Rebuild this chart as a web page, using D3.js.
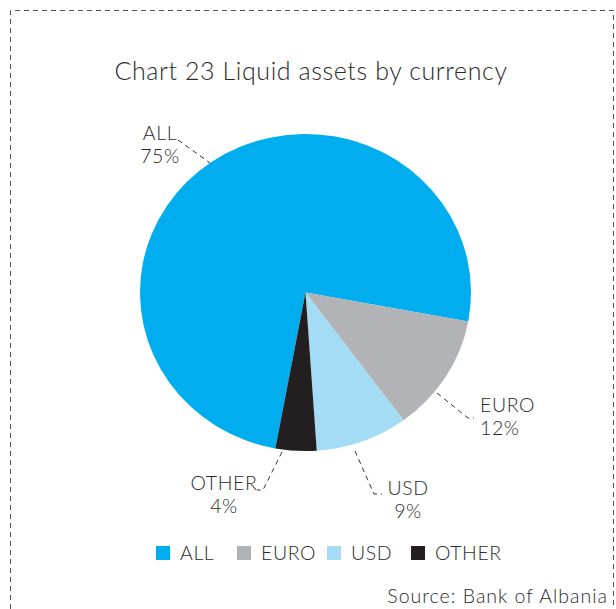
<!DOCTYPE html>
<html>
<head>
<meta charset="utf-8">
<script src="https://cdn.jsdelivr.net/npm/d3@7"></script>
<style>
  html, body { margin: 0; padding: 0; background: #fff; }
  svg { display: block; font-family: "Lato", "Open Sans", sans-serif; }
</style>
</head>
<body>
<svg id="chart" width="616" height="609"></svg>
<script>
// Liquid assets by currency, shares in percent
const categories = ["ALL", "EURO", "USD", "OTHER"];
const shares = [75, 12, 9, 4];
const colors = ["#00aeef", "#b1b3b6", "#a4dcf6", "#231f20"];
const titleText = "Chart 23 Liquid assets by currency";
const sourceText = "Source: Bank of Albania";

const svg = d3.select("#chart");
const textColor = "#2b2b2b";

// dashed frame (left, top, right)
svg.append("path")
  .attr("d", "M10.5,609 L10.5,10.5 L613.5,10.5 L613.5,609")
  .attr("fill", "none")
  .attr("stroke", "#555")
  .attr("stroke-width", 1)
  .attr("stroke-dasharray", "5,4");

svg.append("text")
  .attr("x", 311).attr("y", 80)
  .attr("text-anchor", "middle")
  .attr("font-size", 25)
  .attr("font-weight", 300)
  .attr("letter-spacing", 0.6)
  .attr("fill", textColor)
  .text(titleText);

// the pie is drawn slightly wider than tall
const cx = 305.5, cy = 292.5, radius = 165.5, yScale = 0.958;
const data = categories.map((c, i) => ({ name: c, value: shares[i], color: colors[i] }));

const startDeg = 190.5;
const pie = d3.pie()
  .sort(null)
  .value(d => d.value)
  .startAngle(startDeg * Math.PI / 180)
  .endAngle((startDeg + 360) * Math.PI / 180);

const arc = d3.arc().innerRadius(0).outerRadius(radius);
const arcs = pie(data);

const g = svg.append("g").attr("transform", `translate(${cx},${cy}) scale(1,${yScale})`);
g.selectAll("path.slice")
  .data(arcs)
  .join("path")
  .attr("class", "slice")
  .attr("d", arc)
  .attr("fill", d => d.data.color);

// callout labels: leader line points and text position
const labelSpec = {
  ALL:   { line: [[178, 140], [210, 163]], x: 160, y: 140, anchor: "middle" },
  EURO:  { line: [[437, 393], [468, 418], [474, 418]], x: 480, y: 412, anchor: "start" },
  USD:   { line: [[355, 451], [374, 494], [382, 494]], x: 408, y: 495, anchor: "middle" },
  OTHER: { line: [[282, 452], [263, 490], [257, 490]], x: 224, y: 490, anchor: "middle" }
};

const lineGen = d3.line();
arcs.forEach(a => {
  const spec = labelSpec[a.data.name];
  svg.append("path")
    .attr("d", lineGen(spec.line))
    .attr("fill", "none")
    .attr("stroke", "#333")
    .attr("stroke-width", 1)
    .attr("stroke-dasharray", "5,4");
  const t = svg.append("text")
    .attr("x", spec.x).attr("y", spec.y)
    .attr("text-anchor", spec.anchor)
    .attr("font-size", 19.5)
    .attr("font-weight", 300)
    .attr("letter-spacing", 0.6)
    .attr("fill", textColor);
  t.append("tspan").attr("x", spec.x).text(a.data.name);
  t.append("tspan").attr("x", spec.x).attr("dy", 23).text(a.data.value + "%");
});

// legend
const legendPos = { ALL: 156, EURO: 237, USD: 327, OTHER: 411 };
const lg = svg.append("g");
data.forEach(d => {
  const x = legendPos[d.name];
  lg.append("rect").attr("x", x).attr("y", 546).attr("width", 14).attr("height", 14).attr("fill", d.color);
  lg.append("text").attr("x", x + 24).attr("y", 560)
    .attr("font-size", 19.5).attr("font-weight", 300).attr("letter-spacing", 0.6)
    .attr("fill", textColor)
    .text(d.name);
});

svg.append("text")
  .attr("x", 608).attr("y", 603)
  .attr("text-anchor", "end")
  .attr("font-size", 19.5)
  .attr("font-weight", 300)
  .attr("letter-spacing", 1)
  .attr("fill", textColor)
  .text(sourceText);
</script>
</body>
</html>
